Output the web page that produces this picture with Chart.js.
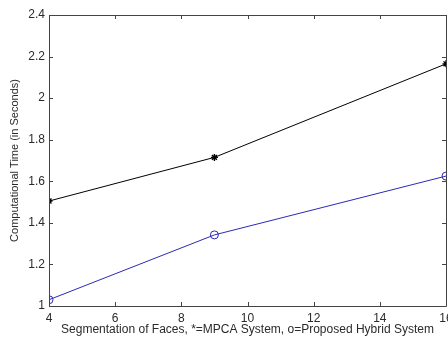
<!DOCTYPE html>
<html>
<head>
<meta charset="utf-8">
<script src="https://cdn.jsdelivr.net/npm/chart.js@4"></script>
<style>
html,body{margin:0;padding:0;background:#fff;overflow:hidden;}
#wrap{width:448px;height:337px;overflow:hidden;position:relative;}
canvas{display:block;}
</style>
</head>
<body>
<div id="wrap"><canvas id="c" width="470" height="337"></canvas></div>
<script>
const segments = [4, 9, 16];
const mpcaTime = [1.505, 1.715, 2.165];
const hybridTime = [1.03, 1.342, 1.625];
const xTicks = [4, 6, 8, 10, 12, 14, 16];
const yTicks = [1, 1.2, 1.4, 1.6, 1.8, 2, 2.2, 2.4];
const xTitle = 'Segmentation of Faces, *=MPCA System, o=Proposed Hybrid System';
const yTitle = 'Computational Time (in Seconds)';

const AXIS = '#444444';
const TEXT = '#2a2a2a';
const BLUE = '#2a2ab4';

const boxPlugin = {
  id: 'box',
  afterDatasetsDraw(chart) {
    const {ctx, chartArea: a, scales} = chart;
    ctx.save();
    ctx.strokeStyle = AXIS;
    ctx.lineWidth = 1;
    ctx.beginPath();
    ctx.rect(Math.round(a.left) + 0.5, Math.round(a.top) + 0.5, Math.round(a.right - a.left), Math.round(a.bottom - a.top));
    ctx.stroke();
    const L = 4;
    ctx.beginPath();
    xTicks.forEach(v => {
      const x = Math.round(scales.x.getPixelForValue(v)) + 0.5;
      ctx.moveTo(x, a.bottom); ctx.lineTo(x, a.bottom - L);
      ctx.moveTo(x, a.top); ctx.lineTo(x, a.top + L);
    });
    yTicks.forEach(v => {
      const y = Math.round(scales.y.getPixelForValue(v)) + 0.5;
      ctx.moveTo(a.left, y); ctx.lineTo(a.left + L, y);
      ctx.moveTo(a.right, y); ctx.lineTo(a.right - L, y);
    });
    ctx.stroke();
    ctx.fillStyle = TEXT;
    ctx.textAlign = 'center';
    ctx.textBaseline = 'middle';
    ctx.font = '12px "Liberation Sans", Arial, sans-serif';
    ctx.fillText(xTitle, (a.left + a.right) / 2, 330);
    ctx.translate(15, (a.top + a.bottom) / 2);
    ctx.rotate(-Math.PI / 2);
    ctx.font = '11px "Liberation Sans", Arial, sans-serif';
    ctx.fillText(yTitle, 0, 0);
    ctx.restore();
  }
};

new Chart(document.getElementById('c'), {
  type: 'line',
  data: {
    datasets: [
      {
        label: 'MPCA System',
        data: segments.map((x, i) => ({x, y: mpcaTime[i]})),
        borderColor: '#000',
        backgroundColor: '#000',
        borderWidth: 1,
        pointStyle: 'star',
        pointRadius: 3.5,
        pointBorderWidth: 1.4,
        pointBorderColor: '#000',
        tension: 0
      },
      {
        label: 'Proposed Hybrid System',
        data: segments.map((x, i) => ({x, y: hybridTime[i]})),
        borderColor: BLUE,
        backgroundColor: 'rgba(0,0,0,0)',
        borderWidth: 1,
        pointStyle: 'circle',
        pointRadius: 4,
        pointBorderWidth: 1,
        pointBorderColor: BLUE,
        pointBackgroundColor: 'rgba(0,0,0,0)',
        tension: 0
      }
    ]
  },
  options: {
    responsive: false,
    animation: false,
    events: [],
    layout: {padding: {top: 15, right: 24, left: 0, bottom: 0}},
    plugins: {legend: {display: false}, tooltip: {enabled: false}},
    scales: {
      x: {
        type: 'linear',
        min: 4, max: 16,
        afterFit(s) { s.height = 31; },
        afterBuildTicks(s) { s.ticks = xTicks.map(v => ({value: v})); },
        grid: {display: false, drawTicks: false},
        border: {display: false},
        ticks: {
          padding: 5,
          color: TEXT,
          font: {family: '"Liberation Sans", Arial, sans-serif', size: 12},
          maxRotation: 0,
          autoSkip: false,
          callback: v => String(v)
        }
      },
      y: {
        type: 'linear',
        min: 1, max: 2.4,
        afterFit(s) { s.width = 49; },
        afterBuildTicks(s) { s.ticks = yTicks.map(v => ({value: v})); },
        grid: {display: false, drawTicks: false},
        border: {display: false},
        ticks: {
          padding: 4,
          color: TEXT,
          font: {family: '"Liberation Sans", Arial, sans-serif', size: 12},
          autoSkip: false,
          callback: v => String(Math.round(v * 10) / 10)
        }
      }
    }
  },
  plugins: [boxPlugin]
});
</script>
</body>
</html>
